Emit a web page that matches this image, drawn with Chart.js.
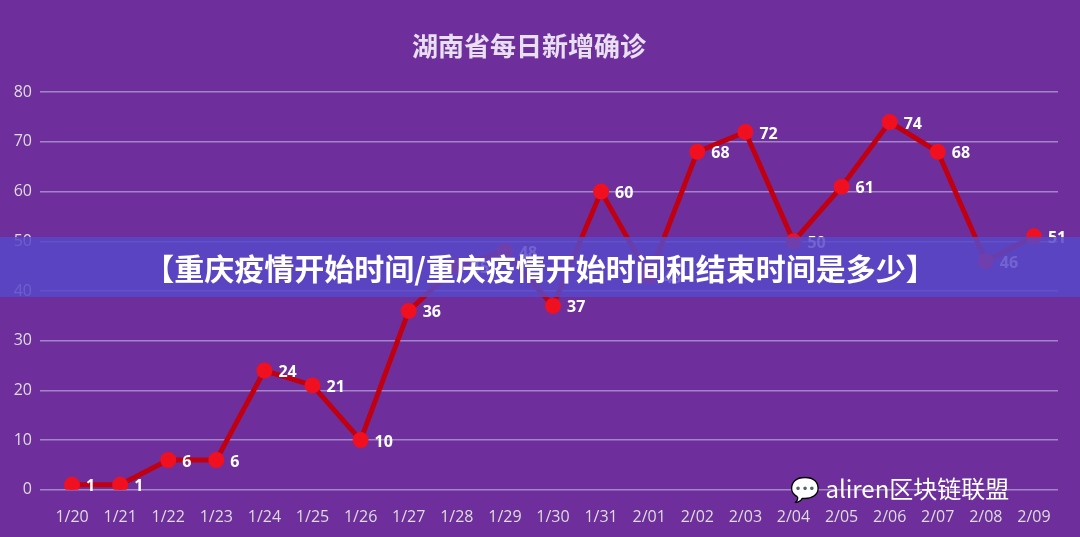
<!DOCTYPE html>
<html><head><meta charset="utf-8">
<script src="https://cdn.jsdelivr.net/npm/chart.js@4"></script>
<style>
body{margin:0;width:1080px;height:537px;background:#6e2f9c;overflow:hidden;position:relative;font-family:"Noto Sans CJK SC",sans-serif}
#wrap{position:absolute;left:0;top:0;width:1080px;height:537px}
#banner{position:absolute;left:0;top:237px;width:1080px;height:60px;background:rgba(88,72,200,0.85);color:#fff;font-weight:bold;font-size:30px;line-height:60px;text-align:center;font-family:"Noto Sans CJK SC"}
#wm{position:absolute;left:790px;top:470px;color:#fff;font-size:24px;font-family:"Noto Sans CJK SC"}
</style></head><body>
<div id="wrap"><canvas id="c" width="1080" height="537"></canvas></div>
<div id="banner">【重庆疫情开始时间/重庆疫情开始时间和结束时间是多少】</div>
<div id="wm">💬 aliren区块链联盟</div>
<script>
const categories=["1/20","1/21","1/22","1/23","1/24","1/25","1/26","1/27","1/28","1/29","1/30","1/31","2/01","2/02","2/03","2/04","2/05","2/06","2/07","2/08","2/09"];
const values=[1,1,6,6,24,21,10,36,45,48,37,60,43,68,72,50,61,74,68,46,51];
const yTicks=[0,10,20,30,40,50,60,70,80];
const labelPlugin={id:'lbl',afterDatasetsDraw(ch){const ctx=ch.ctx;const m=ch.getDatasetMeta(0);ctx.save();ctx.fillStyle='#fff';ctx.font='bold 16px "Open Sans",sans-serif';ctx.textBaseline='middle';
m.data.forEach((p,i)=>{ctx.fillText(values[i],p.x+14,p.y+2);});ctx.restore();}};
new Chart(document.getElementById('c'),{type:'line',
data:{labels:categories,datasets:[{data:values,borderColor:'#c00010',borderWidth:5,pointBackgroundColor:'#f01020',pointBorderColor:'#f01020',pointRadius:5.5,tension:0}]},
options:{responsive:false,animation:false,layout:{padding:{top:31,left:0,right:22,bottom:0}},
plugins:{legend:{display:false},tooltip:{enabled:false},title:{display:true,text:'湖南省每日新增确诊',color:'#e8e0f0',font:{size:26,weight:'bold',family:'"Noto Sans CJK SC"'},padding:{bottom:30}}},
scales:{x:{offset:true,grid:{display:false},border:{display:false},ticks:{color:'#ddd',padding:10,font:{size:16,family:'"Open Sans"'}}},
y:{min:0,max:80,afterBuildTicks(a){a.ticks=yTicks.map(v=>({value:v}));},afterFit(a){a.width=48;},grid:{color:'rgba(200,190,230,0.6)',lineWidth:1.5},border:{display:false},ticks:{color:'#ddd',font:{size:16,family:'"Open Sans"'},padding:8}}}},
plugins:[labelPlugin]});
</script></body></html>
